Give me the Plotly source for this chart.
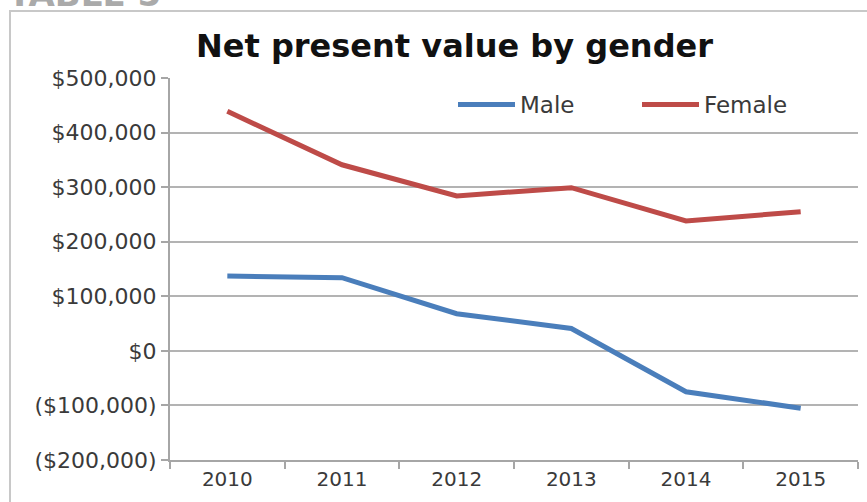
import plotly.graph_objects as go

years = ["2010", "2011", "2012", "2013", "2014", "2015"]
male = [137000, 134000, 68000, 41000, -75000, -105000]
female = [439000, 341000, 284000, 299000, 238000, 255000]
ytick_vals = [500000, 400000, 300000, 200000, 100000, 0, -100000, -200000]
ytick_text = ["$500,000", "$400,000", "$300,000", "$200,000", "$100,000", "$0",
              "($100,000)", "($200,000)"]

W, H = 867, 502
ml, mr, mt, mb = 170, 9, 78, 42
pw, ph = W - ml - mr, H - mt - mb

def px(x):
    return (x - ml) / pw

def py(y):
    return 1 - (y - mt) / ph

fig = go.Figure()
fig.add_trace(go.Scatter(x=years, y=male, name="Male", mode="lines",
                         line=dict(color="#4A7EBB", width=5)))
fig.add_trace(go.Scatter(x=years, y=female, name="Female", mode="lines",
                         line=dict(color="#BE4B48", width=5)))

fig.update_layout(
    width=W, height=H,
    margin=dict(l=ml, r=mr, t=mt, b=mb),
    paper_bgcolor="white", plot_bgcolor="white",
    font=dict(family="DejaVu Sans", color="#3a3a3a", size=19),
    showlegend=True,
    legend=dict(orientation="h", x=px(453), y=py(83), xanchor="left", yanchor="top",
                bgcolor="rgba(0,0,0,0)", font=dict(size=23, color="#3a3a3a"),
                itemwidth=57, traceorder="normal", entrywidthmode="pixels", entrywidth=112),
    xaxis=dict(type="category", range=[-0.5, 5.5], showgrid=False,
               showline=True, linecolor="#a6a6a6", linewidth=2,
               ticks="outside", tickson="boundaries", ticklen=7, tickcolor="#a6a6a6",
               tickwidth=2, tickfont=dict(size=20, color="#3a3a3a")),
    yaxis=dict(range=[-200000, 500000], tickvals=ytick_vals, ticktext=ytick_text,
               showgrid=True, gridcolor="#b3b3b3", gridwidth=2, zeroline=False,
               showline=True, linecolor="#a6a6a6", linewidth=2,
               ticks="outside", ticklen=7, tickcolor="#a6a6a6", tickwidth=2,
               tickfont=dict(size=22, color="#3a3a3a")),
)

fig.add_annotation(text="<b>Net present value by gender</b>", xref="paper", yref="paper",
                   x=px(454), y=py(46), xanchor="center", yanchor="middle", showarrow=False,
                   font=dict(family="DejaVu Sans, Verdana", size=32, color="#111111"))
fig.add_annotation(text="<b>TABLE 5</b>", xref="paper", yref="paper",
                   x=px(6), y=py(16), xanchor="left", yanchor="bottom", showarrow=False,
                   font=dict(family="DejaVu Sans, Verdana", size=34, color="#aaaaaa"))
fig.add_shape(type="rect", xref="paper", yref="paper",
              x0=px(10), x1=px(880), y0=py(520), y1=py(11),
              line=dict(color="#c8c8c8", width=2), layer="below")

fig.write_html("out.html")
